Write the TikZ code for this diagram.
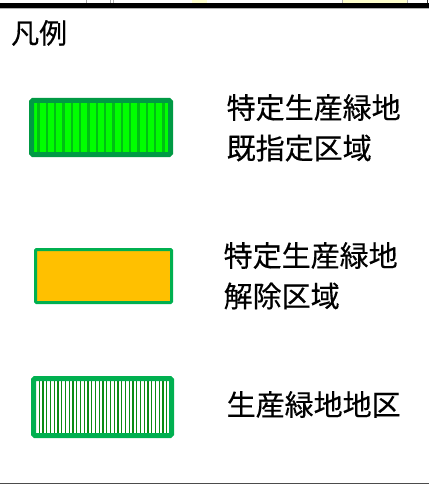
\documentclass[tikz,border=0pt]{standalone}
\usepackage{fontspec}
\setmainfont[FakeBold=0.35]{Noto Sans CJK JP}
\usetikzlibrary{positioning}
\definecolor{desigBorder}{RGB}{0,154,68}
\definecolor{desigFill}{RGB}{0,255,0}
\definecolor{desigStripe}{RGB}{0,190,20}
\definecolor{releaseBorder}{RGB}{0,176,80}
\definecolor{releaseFill}{RGB}{255,192,0}
\definecolor{districtBorder}{RGB}{0,176,80}
\definecolor{districtStripe}{RGB}{10,140,20}
\definecolor{cellYellow}{RGB}{255,255,204}
\tikzstyle{legendtext} = [anchor=base west, inner sep=0pt, align=left, font=\fontsize{29}{40.5}\selectfont]
\tikzstyle{titletext} = [anchor=base west, inner sep=0pt, font=\fontsize{28}{34}\selectfont]
\newcommand\ppbb{path picture bounding box}
\tikzset{
	designated/.style = {rectangle, rounded corners=1.5pt, draw=desigBorder, line width=5pt,
		fill=desigFill, minimum width=139pt, minimum height=54pt, inner sep=0pt,
		path picture={\foreach \i in {0,...,15}
			\draw[desigStripe, line width=2.4pt]
			([xshift=7pt+\i*8.33pt] \ppbb.north west) -- ([xshift=7pt+\i*8.33pt] \ppbb.south west);
		},% end of path picture
	},
	released/.style = {rectangle, rounded corners=1pt, draw=releaseBorder, line width=3pt,
		fill=releaseFill, minimum width=136pt, minimum height=53pt, inner sep=0pt},
	district/.style = {rectangle, rounded corners=1.5pt, draw=districtBorder, line width=5pt,
		fill=white, minimum width=138pt, minimum height=57pt, inner sep=0pt,
		path picture={\foreach \i in {0,...,34}
			\draw[districtStripe, line width=1.3pt]
			([xshift=5.8pt+\i*3.75pt] \ppbb.north west) -- ([xshift=5.8pt+\i*3.75pt] \ppbb.south west);
		},% end of path picture
	}
}

\begin{document}
\begin{tikzpicture}[x=1pt, y=-1pt]
\useasboundingbox [fill=white] (0,0) rectangle (429,484);

% Cut-off table edge at the top
\fill [cellYellow] (192,0) rectangle (207,3.5);
\fill [cellYellow] (343,0) rectangle (407,3.5);
\draw [gray!70, line width=0.8pt] (86,-1) rectangle (110,3);
\draw [gray!60, line width=0.6pt] (113,0) -- (113,4) (342,0) -- (342,4) (407,0) -- (407,4);
\draw [black!80, line width=1pt] (427,0) -- (427,4);
\fill [black] (0,3.5) rectangle (429,8.2);
\draw [gray!60, line width=0.8pt] (0,8.8) -- (429,8.8);

% Title
\node (title) [titletext] at (11,43.5) {凡例};

% Legend symbols
\node (desig) [designated] at (101,127.5) {};
\node (release) [released] at (103.5,276) {};
\node (dist) [district] at (102.5,407) {};

% Legend texts (base = last line)
\node (desigtext) [legendtext] at (226.5,159) {特定生産緑地\\既指定区域};
\node (releasetext) [legendtext] at (223.5,307) {特定生産緑地\\解除区域};
\node (disttext) [legendtext] at (226.5,415.5) {生産緑地地区};

% Bottom edge
\fill [black!70] (0,482.5) rectangle (429,484);
\end{tikzpicture}
\end{document}
